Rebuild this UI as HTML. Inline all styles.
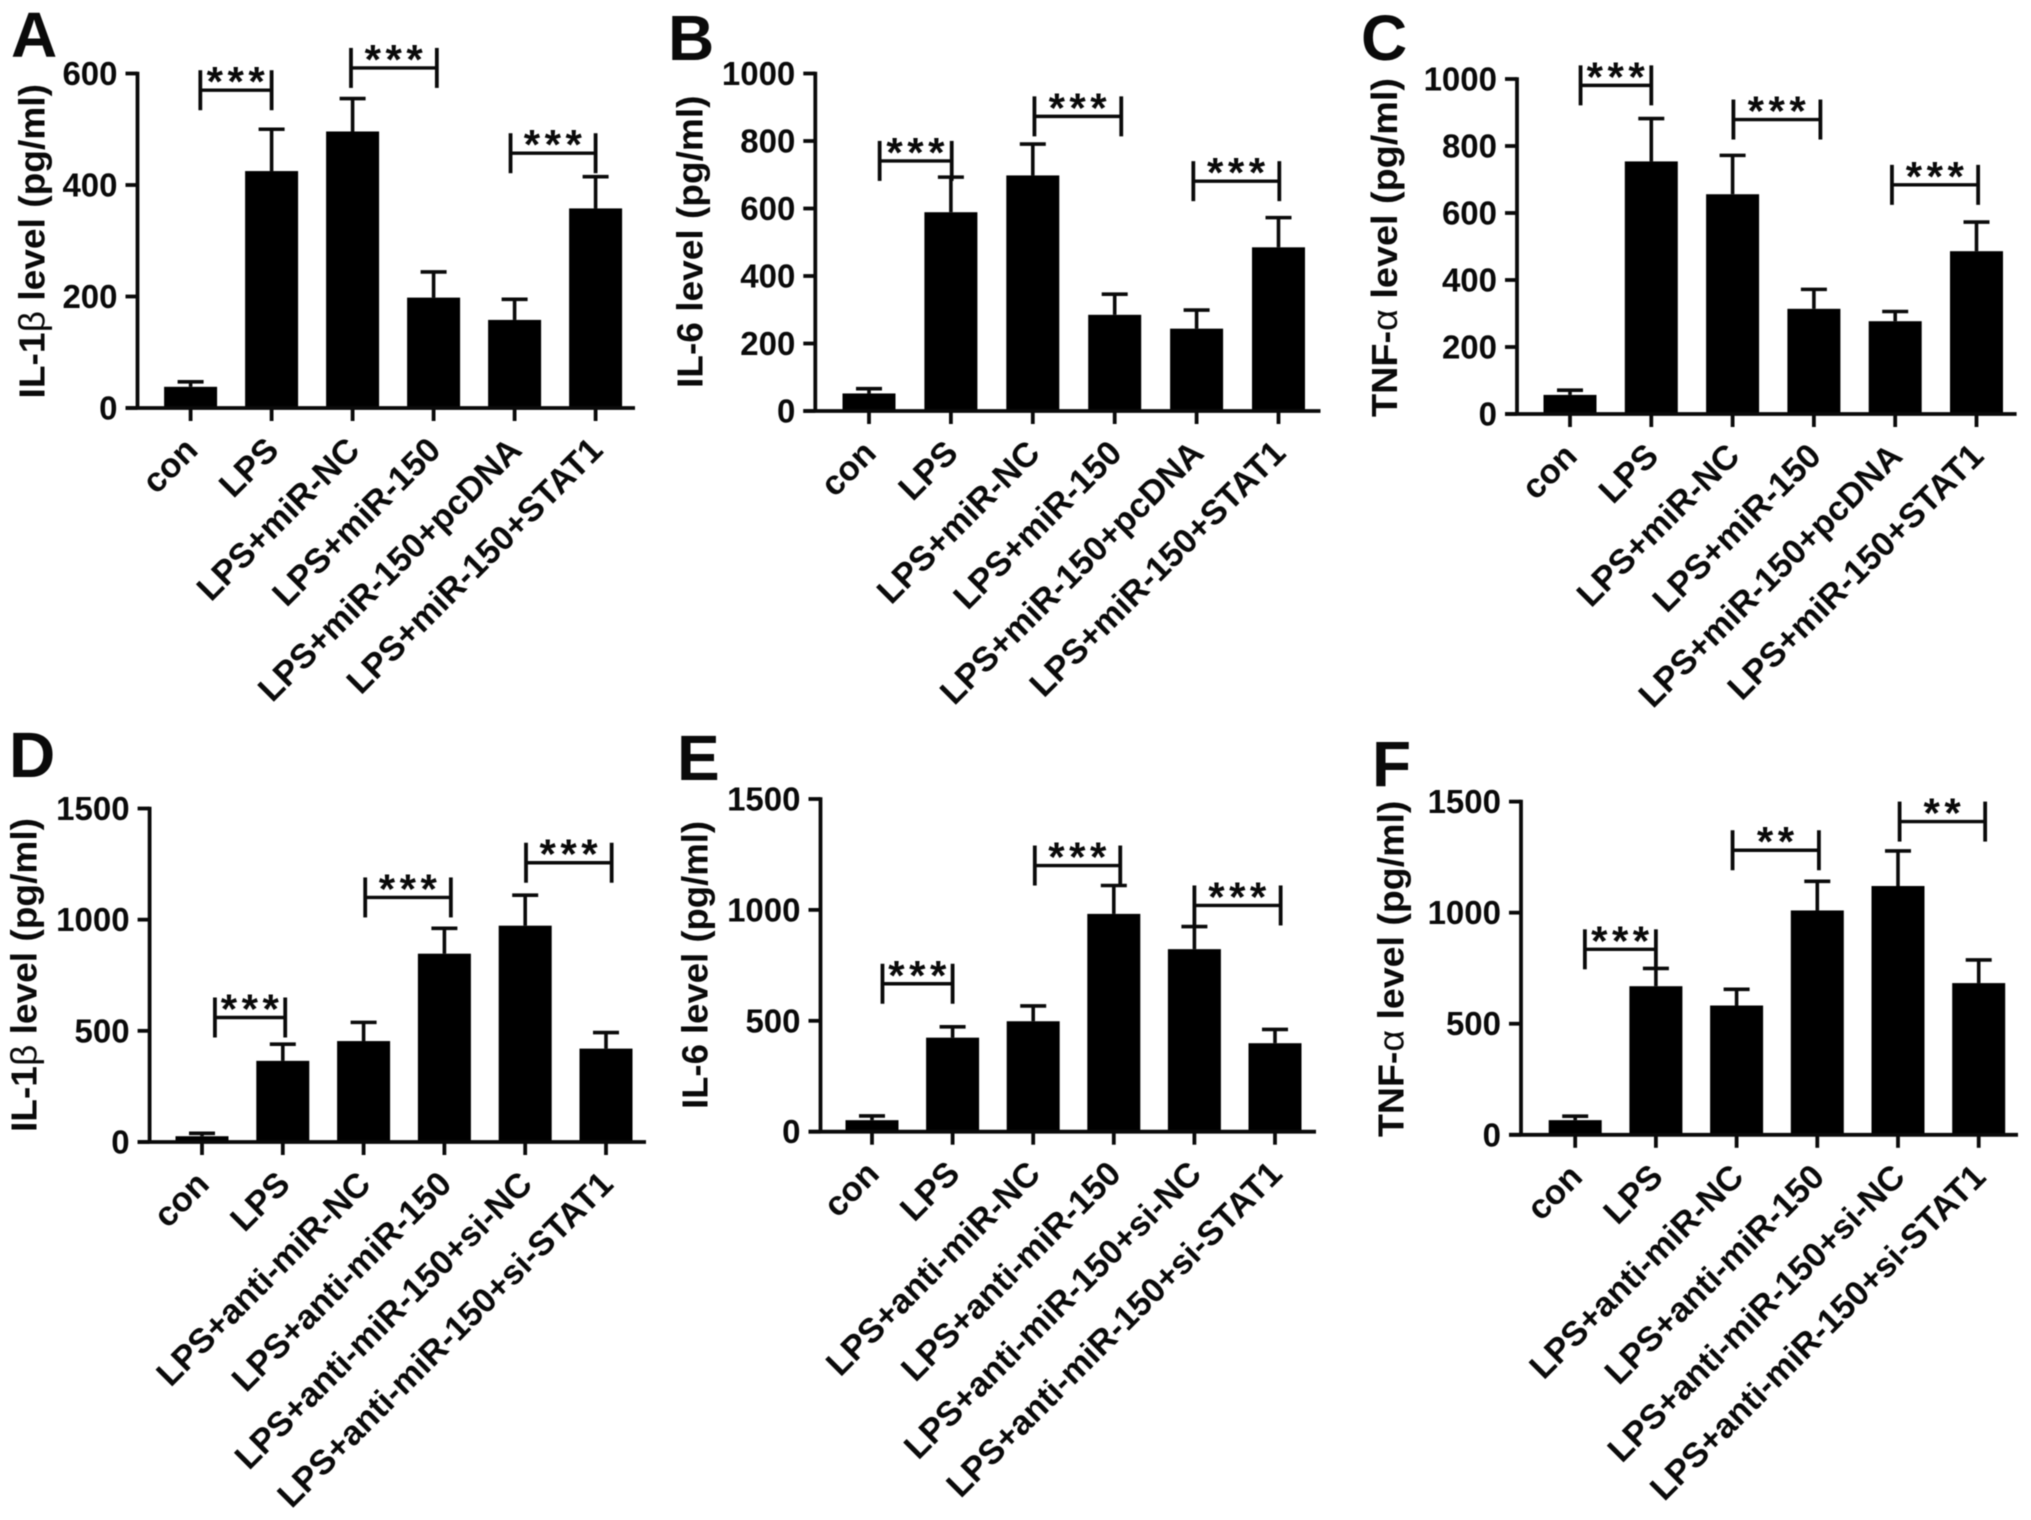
<!DOCTYPE html>
<html lang="en">
<head>
<meta charset="utf-8">
<title>Cytokine levels bar chart panels</title>
<style>
html,body{margin:0;padding:0;background:#fff;}
svg{display:block;filter:blur(0.6px);}
text{font-family:"Liberation Sans",sans-serif;font-weight:bold;fill:#0a0a0a;}
</style>
</head>
<body>
<svg id="figure" xmlns="http://www.w3.org/2000/svg" width="2031" height="1520" viewBox="0 0 2031 1520"></svg>
<script>
// Category labels
const categoriesOverexpression = ["con","LPS","LPS+miR-NC","LPS+miR-150","LPS+miR-150+pcDNA","LPS+miR-150+STAT1"];
const categoriesInhibition = ["con","LPS","LPS+anti-miR-NC","LPS+anti-miR-150","LPS+anti-miR-150+si-NC","LPS+anti-miR-150+si-STAT1"];

// Y-axis tick labels
const ticksA = [0,200,400,600];
const ticksB = [0,200,400,600,800,1000];
const ticksC = [0,200,400,600,800,1000];
const ticksD = [0,500,1000,1500];
const ticksE = [0,500,1000,1500];
const ticksF = [0,500,1000,1500];

// Bar means
const valuesA = [38,425,496,198,158,358];
const valuesB = [52,589,698,285,244,485];
const valuesC = [57,754,656,314,277,486];
const valuesD = [26,365,454,847,973,420];
const valuesE = [52,424,498,982,823,399];
const valuesF = [66,669,582,1010,1120,683];

// Upper end of each error bar
const errorTopsA = [47,500,555,244,195,415];
const errorTopsB = [66,693,791,346,299,573];
const errorTopsC = [71,882,772,372,306,573];
const errorTopsD = [39,440,538,961,1110,492];
const errorTopsE = [71,473,567,1110,925,461];
const errorTopsF = [84,749,655,1141,1278,787];

// Significance brackets: from category, to category, axis value, label
const bracketsA = [[0.12,1,570,"***"],[1.98,3.04,610,"***"],[3.95,5,457,"***"]];
const bracketsB = [[0.13,1.01,741,"***"],[2.02,3.08,873,"***"],[3.96,5.01,681,"***"]];
const bracketsC = [[0.13,1,981,"***"],[2.01,3.08,879,"***"],[3.96,5.02,684,"***"]];
const bracketsD = [[0.16,1.03,560,"***"],[2.02,3.08,1100,"***"],[4.01,5.07,1256,"***"]];
const bracketsE = [[0.13,1,667,"***"],[2.02,3.08,1200,"***"],[4,5.07,1020,"***"]];
const bracketsF = [[0.12,1,835,"***"],[1.95,3.02,1281,"**"],[4.02,5.08,1410,"**"]];

// Panel frames
const panels = [
 {id:"a",letter:"A",lx:11,ly:57,ax:137.5,top:73.5,bottom:408,first:190.6,step:81,end:635,
  title:["IL-1","β"," level (pg/ml)"],tx:44.5,t1:398.5,t2:84,
  cats:categoriesOverexpression,ticks:ticksA,values:valuesA,errs:errorTopsA,brackets:bracketsA},
 {id:"b",letter:"B",lx:668,ly:60,ax:815.3,top:73.5,bottom:411,first:869,step:81.9,end:1320.5,
  title:["IL-6 level (pg/ml)"],tx:702.5,t1:388,t2:95.5,
  cats:categoriesOverexpression,ticks:ticksB,values:valuesB,errs:errorTopsB,brackets:bracketsB},
 {id:"c",letter:"C",lx:1361,ly:60,ax:1517,top:79,bottom:414,first:1570,step:81.3,end:2016.6,
  title:["TNF-","α"," level (pg/ml)"],tx:1397,t1:417,t2:78,
  cats:categoriesOverexpression,ticks:ticksC,values:valuesC,errs:errorTopsC,brackets:bracketsC},
 {id:"d",letter:"D",lx:9,ly:777,ax:149.6,top:808.5,bottom:1142,first:202,step:80.8,end:646,
  title:["IL-1","β"," level (pg/ml)"],tx:36.5,t1:1132,t2:818,
  cats:categoriesInhibition,ticks:ticksD,values:valuesD,errs:errorTopsD,brackets:bracketsD},
 {id:"e",letter:"E",lx:677,ly:780,ax:820.5,top:799,bottom:1131.7,first:872,step:80.6,end:1316,
  title:["IL-6 level (pg/ml)"],tx:707.5,t1:1109,t2:821,
  cats:categoriesInhibition,ticks:ticksE,values:valuesE,errs:errorTopsE,brackets:bracketsE},
 {id:"f",letter:"F",lx:1372,ly:786,ax:1521,top:801.6,bottom:1134.8,first:1575.2,step:80.7,end:2018,
  title:["TNF-","α"," level (pg/ml)"],tx:1403.5,t1:1137,t2:800.6,
  cats:categoriesInhibition,ticks:ticksF,values:valuesF,errs:errorTopsF,brackets:bracketsF}
];

const NS = "http://www.w3.org/2000/svg";
const INK = "#0a0a0a";
const figure = document.getElementById("figure");

function make(parent, tag, attrs, text) {
  const node = document.createElementNS(NS, tag);
  for (const key in attrs) node.setAttribute(key, attrs[key]);
  if (text !== undefined) node.textContent = text;
  parent.appendChild(node);
  return node;
}
function line(parent, x1, y1, x2, y2, width) {
  return make(parent, "line", {x1:x1, y1:y1, x2:x2, y2:y2, stroke:INK, "stroke-width":width});
}

panels.forEach(function (p) {
  const maxTick = p.ticks[p.ticks.length - 1];
  const xScale = function (i) { return p.first + p.step * i; };
  const yScale = function (v) { return p.bottom - (v / maxTick) * (p.bottom - p.top); };

  const group = make(figure, "g", {});
  
  

  const letter = make(group, "text", {x:p.lx, y:p.ly, "font-size":64}, p.letter);
  
  

  // Bars and error bars
  p.values.forEach(function (value, i) {
    const x = xScale(i);
    const stem = line(group, x, yScale(value), x, yScale(p.errs[i]), 3.6);
    
    
    const cap = line(group, x - 13, yScale(p.errs[i]), x + 13, yScale(p.errs[i]), 3.6);
    
    
    const bar = make(group, "rect", {x:x - 26.5, y:yScale(value), width:53, height:p.bottom - yScale(value), fill:"#000"});
    
    
  });

  // Axes
  const yAxis = line(group, p.ax, p.top - 1.8, p.ax, p.bottom, 3.8);
  
  
  const xAxis = line(group, p.ax - 12, p.bottom, p.end, p.bottom, 3.8);
  
  

  p.ticks.forEach(function (tick) {
    const mark = line(group, p.ax - 12, yScale(tick), p.ax, yScale(tick), 3.8);
    
    
    const label = make(group, "text", {x:p.ax - 20, y:yScale(tick) + 11.5, "font-size":33, "text-anchor":"end"}, tick);
    
    
  });

  p.cats.forEach(function (cat, i) {
    const x = xScale(i);
    const mark = line(group, x, p.bottom, x, p.bottom + 13, 3.8);
    
    
    const ax = x + 9, ay = p.bottom + 44;
    const label = make(group, "text", {x:ax, y:ay, "font-size":34.4, "text-anchor":"end", transform:"rotate(-45 " + ax + " " + ay + ")"}, cat);
    
    
  });

  // Y-axis title
  const midY = (p.t1 + p.t2) / 2;
  const title = make(group, "text", {
    x:p.tx, y:midY, "font-size":36, "text-anchor":"middle",
    transform:"rotate(-90 " + p.tx + " " + midY + ")",
    textLength:p.t1 - p.t2, lengthAdjust:"spacingAndGlyphs"
  });
  
  
  p.title.forEach(function (part) {
    const isGreek = part === "β" || part === "α";
    const span = make(title, "tspan", isGreek ? {"font-weight":"normal"} : {}, part);
    
    
  });

  // Significance brackets
  p.brackets.forEach(function (b, i) {
    const x1 = xScale(b[0]), x2 = xScale(b[1]), y = yScale(b[2]);
    const beam = line(group, x1, y, x2, y, 3.4);
    
    
    const left = line(group, x1, y - 20, x1, y + 20, 3.8);
    
    
    const right = line(group, x2, y - 20, x2, y + 20, 3.8);
    
    
    const stars = make(group, "text", {x:(x1 + x2) / 2 + 2, y:y + 6, "font-size":42, "letter-spacing":4.5, "text-anchor":"middle"}, b[3]);
    
    
  });
});
</script>
</body>
</html>
